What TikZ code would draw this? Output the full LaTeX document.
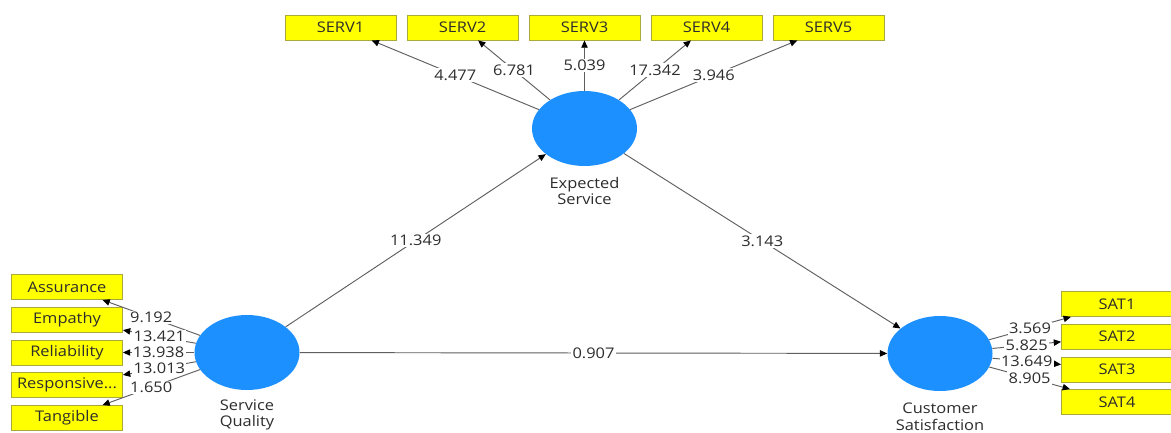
\documentclass[tikz,border=0pt]{standalone}
\usepackage{fontspec}
\setmainfont{Open Sans}[FakeStretch=1.12]
\usetikzlibrary{shapes.geometric,arrows.meta}
\definecolor{lvblue}{RGB}{28,144,255}
\definecolor{mvyellow}{RGB}{255,255,0}
\definecolor{mvedge}{RGB}{170,170,60}
\definecolor{linkgray}{RGB}{95,95,95}
\definecolor{txtgray}{RGB}{45,45,45}

\begin{document}
\begin{tikzpicture}[x=0.75pt,y=-0.75pt,
  latent/.style={ellipse,fill=lvblue,draw=none,minimum width=78.75pt,minimum height=56.25pt,inner sep=0pt},
  indicator/.style={rectangle,fill=mvyellow,draw=mvedge,line width=0.6pt,minimum width=83.25pt,minimum height=18.75pt,inner sep=0pt,font=\fontsize{11}{13}\selectfont,text=txtgray},
  lvname/.style={align=center,font=\fontsize{11}{12.4}\selectfont,text=txtgray},
  link/.style={draw=linkgray,line width=0.7pt,-{Triangle[length=5.5pt,width=4.8pt,color=black]}},
  coef/.style={fill=white,inner sep=1pt,font=\fontsize{11}{13}\selectfont,text=txtgray},
]
\useasboundingbox[fill=white] (0,0) rectangle (1171,432);

% latent variables
\node[latent] (ES) at (584.5,128.5) {};
\node[latent] (SQ) at (247,352.5) {};
\node[latent] (CS) at (940,353.5) {};
\node[lvname] (ESl) at (584.5,191) {Expected\\Service};
\node[lvname] (SQl) at (247,415) {Service\\Quality};
\node[lvname] (CSl) at (940,416.5) {Customer\\Satisfaction};

% indicators of Expected Service
\node[indicator] (S1) at (340.5,27.5) {SERV1};
\node[indicator] (S2) at (462.5,27.5) {SERV2};
\node[indicator] (S3) at (584.5,27.5) {SERV3};
\node[indicator] (S4) at (706.5,27.5) {SERV4};
\node[indicator] (S5) at (828.5,27.5) {SERV5};

% indicators of Service Quality
\node[indicator] (Q1) at (67,287) {Assurance};
\node[indicator] (Q2) at (67,320) {Empathy};
\node[indicator] (Q3) at (67,352.5) {Reliability};
\node[indicator] (Q4) at (67,385) {Responsive...};
\node[indicator] (Q5) at (67,418) {Tangible};

% indicators of Customer Satisfaction
\node[indicator] (T1) at (1117,304) {SAT1};
\node[indicator] (T2) at (1117,336.5) {SAT2};
\node[indicator] (T3) at (1117,369.5) {SAT3};
\node[indicator] (T4) at (1117,402) {SAT4};

% structural paths
\draw[link] (SQ) -- node[coef] {11.349} (ES);
\draw[link] (ES) -- node[coef] {3.143} (CS);
\draw[link] (SQ) -- node[coef] {0.907} (CS);

% outer paths
\draw[link] (ES) -- node[coef] {4.477} (S1);
\draw[link] (ES) -- node[coef] {6.781} (S2);
\draw[link] (ES) -- node[coef] {5.039} (S3);
\draw[link] (ES) -- node[coef] {17.342} (S4);
\draw[link] (ES) -- node[coef] {3.946} (S5);

\draw[link] (SQ) -- node[coef] {9.192} (Q1);
\draw[link] (SQ) -- node[coef] {13.421} (Q2);
\draw[link] (SQ) -- node[coef] {13.938} (Q3);
\draw[link] (SQ) -- node[coef] {13.013} (Q4);
\draw[link] (SQ) -- node[coef] {1.650} (Q5);

\draw[link] (CS) -- node[coef] {3.569} (T1);
\draw[link] (CS) -- node[coef] {5.825} (T2);
\draw[link] (CS) -- node[coef] {13.649} (T3);
\draw[link] (CS) -- node[coef] {8.905} (T4);
\end{tikzpicture}
\end{document}
